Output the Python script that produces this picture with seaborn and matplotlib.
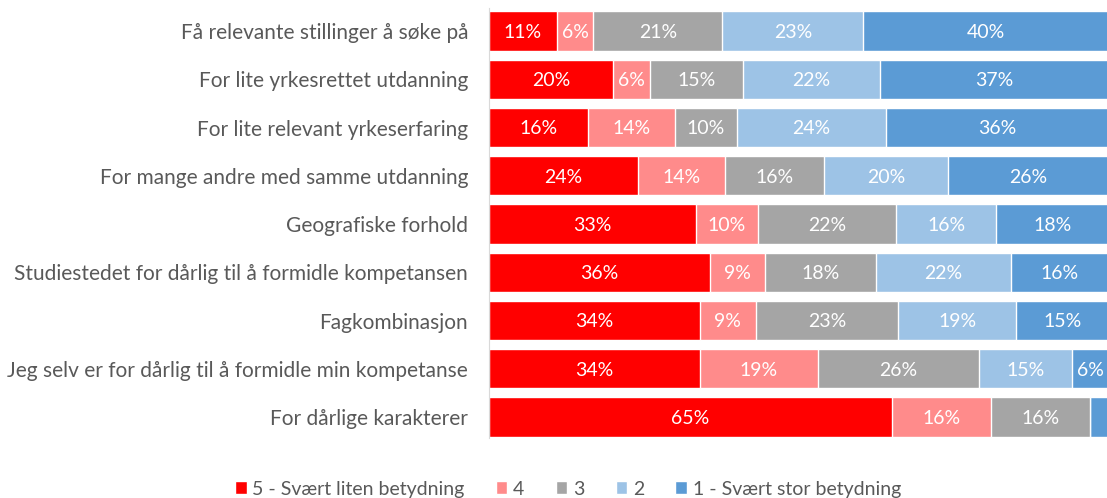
import numpy as np
import pandas as pd
import seaborn as sns
import matplotlib.pyplot as plt
from matplotlib.patches import Patch

# data
categories = [
    "Få relevante stillinger å søke på",
    "For lite yrkesrettet utdanning",
    "For lite relevant yrkeserfaring",
    "For mange andre med samme utdanning",
    "Geografiske forhold",
    "Studiestedet for dårlig til å formidle kompetansen",
    "Fagkombinasjon",
    "Jeg selv er for dårlig til å formidle min kompetanse",
    "For dårlige karakterer",
]
level_names = ["5 - Svært liten betydning", "4", "3", "2", "1 - Svært stor betydning"]
level5 = [11, 20, 16, 24, 33, 36, 34, 34, 65]
level4 = [6, 6, 14, 14, 10, 9, 9, 19, 16]
level3 = [21, 15, 10, 16, 22, 18, 23, 26, 16]
level2 = [23, 22, 24, 20, 16, 22, 19, 15, 0]
level1 = [40, 37, 36, 26, 18, 16, 15, 6, 3]
colors = ["#FF0000", "#FF8B8B", "#A5A5A5", "#9DC3E6", "#5B9BD5"]

sns.set_style("white")
plt.rcParams["font.family"] = ["Lato", "DejaVu Sans"]
text_col = "#595959"

vals = np.array([level5, level4, level3, level2, level1], dtype=float)
# 100% stacked, like the Excel original
vals = vals / vals.sum(axis=0) * 100
cum = np.cumsum(vals, axis=0)

fig = plt.figure(figsize=(11.07, 4.98), dpi=100)
ax = fig.add_axes([489 / 1107, 1 - 438 / 498, 620 / 1107, 430 / 498])

# draw the cumulative totals from the outermost level inward
for k in range(4, -1, -1):
    df = pd.DataFrame({"cat": categories, "val": cum[k]})
    sns.barplot(data=df, x="val", y="cat", orient="h", color=colors[k],
                saturation=1, width=0.81, ax=ax)

raw = [level5, level4, level3, level2, level1]
for k in range(5):
    for i in range(len(categories)):
        if raw[k][i] >= 5:
            left = cum[k][i] - vals[k][i]
            ax.text(left + vals[k][i] / 2, i + 0.03, f"{raw[k][i]}%", ha="center",
                    va="center", color="white", fontsize=14)

ax.set_xlim(0, 100)
ax.set_ylim(len(categories) - 1 + 0.435, -0.477)
ax.set_xlabel("")
ax.set_ylabel("")
ax.set_xticks([])
ax.tick_params(axis="y", length=0, pad=15, labelsize=15, labelcolor=text_col)
for s in ["top", "right", "bottom"]:
    ax.spines[s].set_visible(False)
ax.spines["left"].set_color("#D9D9D9")

handles = [Patch(facecolor=c, label=n) for c, n in zip(colors, level_names)]
fig.legend(handles=handles, loc="center", bbox_to_anchor=(568 / 1107, 1 - 489 / 498),
           ncol=5, frameon=False, fontsize=14, labelcolor=text_col,
           handlelength=0.6, handleheight=0.6, handletextpad=0.3, columnspacing=1.6)

fig.savefig("out.png", dpi=100)
